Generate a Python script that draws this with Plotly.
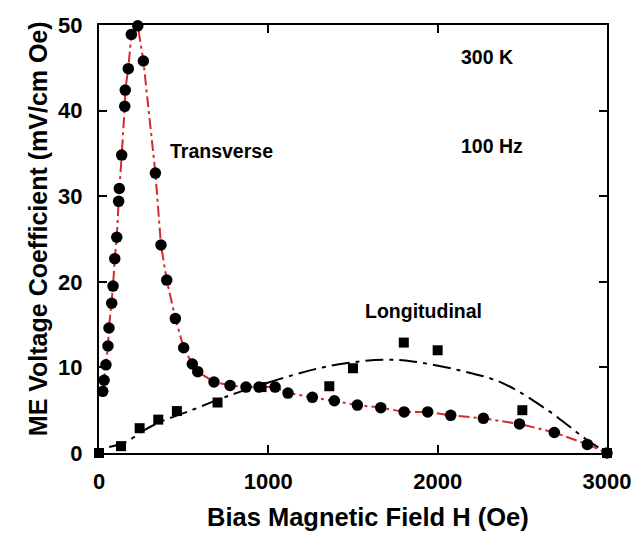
import plotly.graph_objects as go

# Transverse ME coefficient (circles)
trans_h = [22, 30, 41, 53, 59, 75, 83, 93, 105, 116, 120, 134, 152, 155, 173, 191, 229,
           262, 333, 366, 400, 451, 500, 551, 583, 679, 774, 868, 945, 1040, 1116, 1260,
           1390, 1526, 1664, 1802, 1941, 2077, 2270, 2483, 2689, 2884, 3000]
trans_me = [7.2, 8.5, 10.3, 12.5, 14.6, 17.5, 19.5, 22.7, 25.2, 29.4, 30.9, 34.8, 40.5, 42.4,
            44.9, 48.9, 49.9, 45.8, 32.7, 24.3, 20.2, 15.7, 12.3, 10.4, 9.5, 8.3, 7.9, 7.7,
            7.7, 7.7, 7.0, 6.5, 6.1, 5.6, 5.3, 4.8, 4.8, 4.4, 4.05, 3.4, 2.4, 1.0, 0.0]

# Longitudinal ME coefficient (squares)
long_h = [0, 130, 240, 350, 460, 700, 960, 1360, 1500, 1800, 2000, 2500, 3000]
long_me = [0.0, 0.8, 2.9, 3.9, 4.9, 5.9, 7.7, 7.8, 9.9, 12.9, 12.0, 5.0, 0.0]

# Longitudinal fit curve
fit_h = [60, 160, 270, 370, 520, 700, 810, 1060, 1320, 1540, 1700, 1850, 2120, 2380, 2650, 2870, 3000]
fit_me = [0.7, 1.3, 2.7, 3.7, 4.8, 6.2, 7.0, 8.6, 10.0, 10.7, 10.9, 10.7, 9.7, 8.2, 5.0, 1.7, 0.0]

x_ticks = [0, 1000, 2000, 3000]
y_ticks = [0, 10, 20, 30, 40, 50]

FONT = "Liberation Sans, Arial, sans-serif"

fig = go.Figure()

fig.add_trace(go.Scatter(
    x=fit_h, y=fit_me, mode="lines",
    line=dict(color="black", width=2, dash="18px,6px,4px,6px", shape="spline", smoothing=1.0),
    cliponaxis=False, showlegend=False))

fig.add_trace(go.Scatter(
    x=trans_h, y=trans_me, mode="lines",
    line=dict(color="#d42a2a", width=2, dash="11px,4px,3px,4px"),
    cliponaxis=False, showlegend=False))

fig.add_trace(go.Scatter(
    x=trans_h, y=trans_me, mode="markers",
    marker=dict(symbol="circle", size=11.5, color="black"),
    cliponaxis=False, showlegend=False))

fig.add_trace(go.Scatter(
    x=long_h, y=long_me, mode="markers",
    marker=dict(symbol="square", size=10, color="black"),
    cliponaxis=False, showlegend=False))

ann = dict(showarrow=False, xanchor="left", yanchor="middle",
           font=dict(family=FONT, size=19.5, color="black", weight="bold"))
fig.add_annotation(x=2124, y=46.3, text="300 K", **ann)
fig.add_annotation(x=2124, y=35.9, text="100 Hz", **ann)
fig.add_annotation(x=407, y=35.3, text="Transverse", **ann)
fig.add_annotation(x=1560, y=16.6, text="Longitudinal", **ann)

# Axis titles placed as annotations for exact positioning
fig.add_annotation(x=0.5295, y=-0.149, xref="paper", yref="paper",
                   text="Bias Magnetic Field H (Oe)", showarrow=False,
                   xanchor="center", yanchor="middle", borderpad=0,
                   font=dict(family=FONT, size=25.5, color="black", weight="bold"))
fig.add_annotation(x=-0.12, y=0.523, xref="paper", yref="paper",
                   text="ME Voltage Coefficient (mV/cm Oe)", showarrow=False,
                   textangle=-90, xanchor="center", yanchor="middle", borderpad=0,
                   font=dict(family=FONT, size=25, color="black", weight="bold"))

axis_common = dict(
    showline=True, linecolor="black", linewidth=2, mirror="ticks",
    ticks="inside", ticklen=8, tickwidth=2, tickcolor="black",
    showgrid=False, zeroline=False, automargin=False,
    tickfont=dict(family=FONT, size=22, color="black", weight="bold"),
)

fig.update_xaxes(range=[0, 3000], tickvals=x_ticks, ticklabelstandoff=8, **axis_common)
fig.update_yaxes(range=[0, 50], tickvals=y_ticks, ticklabelstandoff=10, **axis_common)

fig.update_layout(
    width=636, height=533,
    margin=dict(l=99, r=29, t=25, b=80, pad=0),
    plot_bgcolor="white", paper_bgcolor="white",
)

fig.write_html("out.html")
